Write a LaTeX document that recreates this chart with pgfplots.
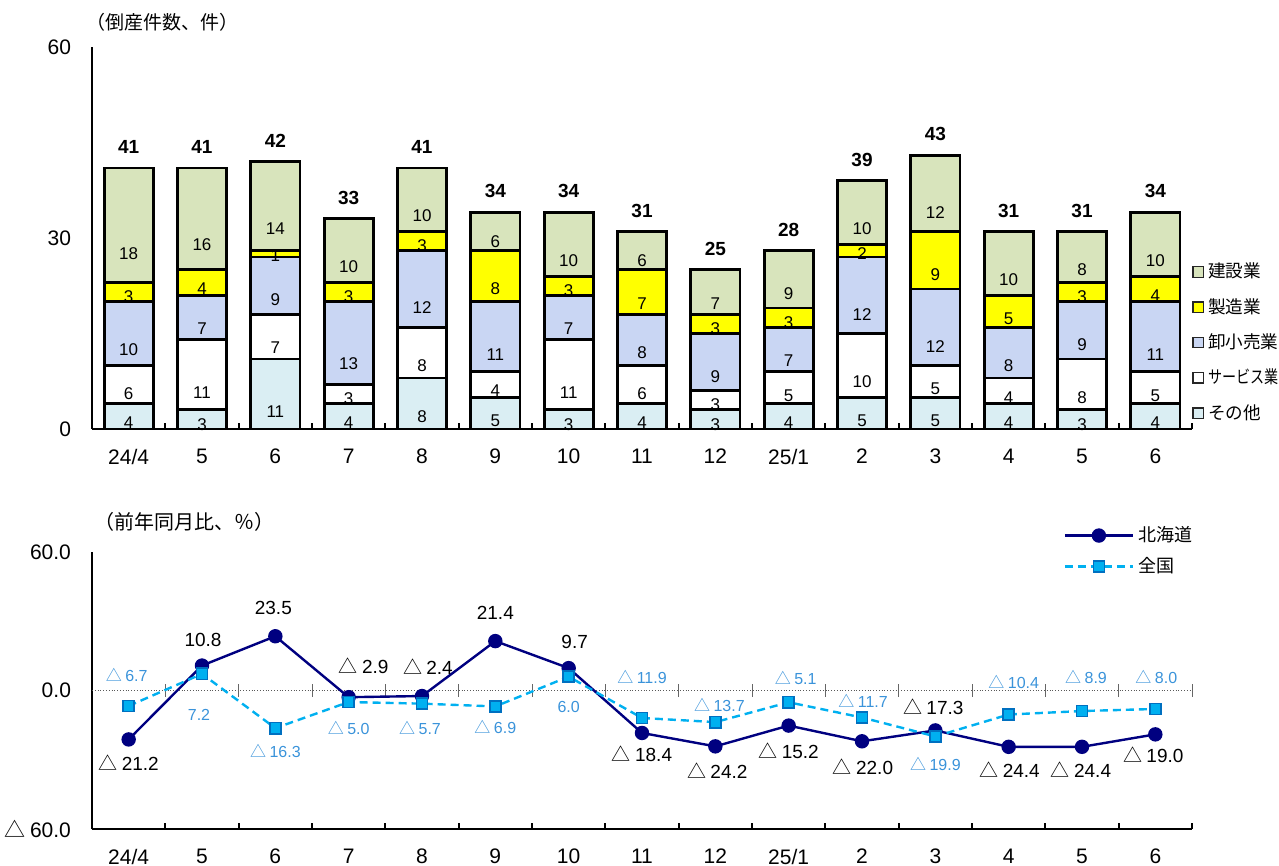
\documentclass[border=0pt]{standalone}
\usepackage{fontspec}
\usepackage{graphicx}
\usepackage{pgfplots}
\usepackage{pgfplotstable}
\pgfplotsset{compat=1.18}
\setmainfont{Liberation Sans}
\newfontfamily\cjk{Noto Sans CJK JP}
\protected\def\tri{{\cjk △}\hspace{0.22em}}
\pgfkeys{/pgf/number format/assume math mode=true}

\definecolor{kensetsu}{HTML}{D8E4BC}
\definecolor{seizo}{HTML}{FFFF00}
\definecolor{oroshi}{HTML}{C9D6F3}
\definecolor{service}{HTML}{FFFFFF}
\definecolor{sonota}{HTML}{DAEEF3}
\definecolor{hkd}{HTML}{000080}
\definecolor{zenkoku}{HTML}{00B0F0}
\definecolor{zkedge}{HTML}{0070C0}
\definecolor{zktext}{HTML}{3A93DA}

% monthly bankruptcies by industry (bottom to top)
\pgfplotstableread{
x sonota service oroshi seizo kensetsu total
0  4  6 10 3 18 41
1  3 11  7 4 16 41
2 11  7  9 1 14 42
3  4  3 13 3 10 33
4  8  8 12 3 10 41
5  5  4 11 8  6 34
6  3 11  7 3 10 34
7  4  6  8 7  6 31
8  3  3  9 3  7 25
9  4  5  7 3  9 28
10 5 10 12 2 10 39
11 5  5 12 9 12 43
12 4  4  8 5 10 31
13 3  8  9 3  8 31
14 4  5 11 4 10 34
}\tosan

% year-on-year change, Hokkaido
\pgfplotstableread{
x y dx dy lab
0  -21.2  0    -11.5 \tri21.2
1   10.8  0.5   13   10.8
2   23.5 -1     14   23.5
3   -2.9  7.5   15.5 \tri2.9
4   -2.4  3     14.5 \tri2.4
5   21.4  0     14   21.4
6    9.7  3     13   9.7
7  -18.4  0    -10.5 \tri18.4
8  -24.2  1    -12   \tri24.2
9  -15.2  0    -12.5 \tri15.2
10 -22.0  0.5  -12.5 \tri22.0
11 -17.3 -1     12   \tri17.3
12 -24.4  0.5  -11.5 \tri24.4
13 -24.4 -0.5  -11.5 \tri24.4
14 -19.0 -1    -10   \tri19.0
}\hokkaido

% year-on-year change, nationwide
\pgfplotstableread{
x y dx dy lab
0   -6.7 -1     15.5 \tri6.7
1    7.2 -1.5  -20.5 7.2
2  -16.3  0    -11.5 \tri16.3
3   -5.0  0    -13   \tri5.0
4   -5.7 -1    -12   \tri5.7
5   -6.9  0    -10.5 \tri6.9
6    6.0  0    -15   6.0
7  -11.9  0     20.5 \tri11.9
8  -13.7  2     8.5  \tri13.7
9   -5.1  3.5   12   \tri5.1
10 -11.7  0.5   8.5  \tri11.7
11 -19.9  0    -14   \tri19.9
12 -10.4  2.5   16.5 \tri10.4
13  -8.9  2     17   \tri8.9
14  -8.0  0.5   16   \tri8.0
}\zenkokutab

\pgfplotsset{
  sqlegend/.style={legend image code/.code={\draw[##1,line width=0.6pt,draw=black!85] (0pt,-2.6pt) rectangle (5.2pt,2.6pt);}},
  seg/.style={
    point meta=explicit,
    nodes near coords={\pgfmathprintnumber{\pgfplotspointmeta}},
    nodes near coords align=center,
    visualization depends on={rawy \as \segv},
    every node near coord/.append style={anchor=center, yshift={-\segv*0.795833pt},
      font=\fontsize{8.5}{9}\selectfont, text=black, inner sep=0pt},
  },
  lbl/.style={
    point meta=explicit symbolic,
    nodes near coords={\pgfplotspointmeta},
    visualization depends on={\thisrow{dx}\as\lbx},
    visualization depends on={\thisrow{dy}\as\lby},
    every node near coord/.append style={anchor=center, xshift={\lbx*1pt}, yshift={\lby*1pt}, inner sep=0pt},
  },
  base/.style={
    width=550pt, scale only axis, xmin=-0.5, xmax=14.5, clip=false,
    axis x line*=bottom, axis y line*=left,
    axis line style={line width=1.4pt},
    xtick={0,...,14},
    xticklabels={24/4,5,6,7,8,9,10,11,12,25/1,2,3,4,5,6},
    minor xtick={-0.5,0.5,...,14.5},
    major tick length=0pt, minor tick length=3pt, tick align=inside,
    minor tick style={line width=1pt, black},
    tick label style={font=\fontsize{10.5}{12}\selectfont},
    xticklabel style={yshift=-6.5pt},
    yticklabel style={xshift=-7pt},
    legend cell align=left,
  },
}

\begin{document}
\begin{tikzpicture}
\useasboundingbox (-46pt,-218.5pt) rectangle (593.5pt,214.5pt);

\begin{axis}[base, at={(0pt,0pt)}, anchor=south west, height=191pt,
  ymin=0, ymax=60, ytick={0,30,60}, yticklabels={0,30,60},
  ybar stacked, bar width=0.67,
  every axis plot post/.append style={sqlegend},
  reverse legend,
  legend style={at={(1.0,0.446)}, anchor=north west, draw=none, fill=none,
    inner sep=0pt, row sep=4.75pt, font=\cjk\fontsize{8.8}{10}\selectfont,
    /tikz/every even column/.append style={column sep=0.5pt}},
]
\addplot[fill=sonota, draw=black, line width=1.4pt, seg] table[x=x, y=sonota, meta=sonota]{\tosan};
\addlegendentry{その他}
\addplot[fill=service, draw=black, line width=1.4pt, seg] table[x=x, y=service, meta=service]{\tosan};
\addlegendentry{\scalebox{0.8}[1]{サービス業}}
\addplot[fill=oroshi, draw=black, line width=1.4pt, seg] table[x=x, y=oroshi, meta=oroshi]{\tosan};
\addlegendentry{卸小売業}
\addplot[fill=seizo, draw=black, line width=1.4pt, seg] table[x=x, y=seizo, meta=seizo]{\tosan};
\addlegendentry{製造業}
\addplot[fill=kensetsu, draw=black, line width=1.4pt, seg] table[x=x, y=kensetsu, meta=kensetsu]{\tosan};
\addlegendentry{建設業}
\node[anchor=west, inner sep=0pt, font=\cjk\fontsize{9.5}{11}\selectfont]
  at ([xshift=-3pt, yshift=12.5pt]rel axis cs:0,1) {（倒産件数、件）};
\end{axis}

% totals above the bars
\begin{axis}[at={(0pt,0pt)}, anchor=south west, width=550pt, height=191pt,
  scale only axis, xmin=-0.5, xmax=14.5, ymin=0, ymax=60, hide axis]
\addplot[draw=none, point meta=explicit,
  nodes near coords={\pgfmathprintnumber{\pgfplotspointmeta}},
  every node near coord/.append style={anchor=south, yshift=7pt, inner sep=0pt,
    font=\bfseries\fontsize{9.5}{11}\selectfont, text=black}]
  table[x=x, y=total, meta=total]{\tosan};
\end{axis}

\begin{axis}[base, at={(0pt,-200pt)}, anchor=south west, height=138.5pt,
  ymin=-60, ymax=60, ytick={-60,0,60}, yticklabels={\tri60.0,0.0,60.0},
  extra y ticks={0}, extra y tick labels={},
  extra y tick style={grid=major, major grid style={black!65, densely dotted, line width=0.5pt}},
  legend style={at={(0.883,1.108)}, anchor=north west, draw=none, fill=none,
    inner sep=0pt, row sep=2.5pt, font=\cjk\fontsize{9}{10}\selectfont,
    /tikz/every even column/.append style={column sep=4pt}},
  legend image code/.code={\draw[mark repeat=2, mark phase=2, #1] plot coordinates {(0pt,0pt) (17pt,0pt) (34pt,0pt)};},
]
\pgfplotsinvokeforeach{0.5,1.5,...,13.5}{
  \draw[black!60, line width=0.5pt] (axis cs:#1,-2.6) -- (axis cs:#1,2.6);
}
\draw[black!60, line width=0.5pt] (axis cs:14.5,-2.6) -- (axis cs:14.5,2.6);
\addplot[hkd, line width=1.2pt, mark=*, mark size=3pt, mark options={fill=hkd, draw=hkd},
  lbl, every node near coord/.append style={text=black, font=\fontsize{9.5}{11}\selectfont}]
  table[x=x, y=y, meta=lab]{\hokkaido};
\addlegendentry{北海道}
\addplot[zenkoku, line width=1.2pt, dash pattern=on 4pt off 2.5pt, mark=square*, mark size=2.8pt,
  mark options={solid, fill=zenkoku, draw=zkedge, line width=0.8pt},
  lbl, every node near coord/.append style={text=zktext, font=\fontsize{8}{9}\selectfont}]
  table[x=x, y=y, meta=lab]{\zenkokutab};
\addlegendentry{全国}
\node[anchor=west, inner sep=0pt, font=\cjk\fontsize{10}{11}\selectfont]
  at ([xshift=1pt, yshift=15pt]rel axis cs:0,1) {（前年同月比、％）};
\end{axis}
\end{tikzpicture}
\end{document}
